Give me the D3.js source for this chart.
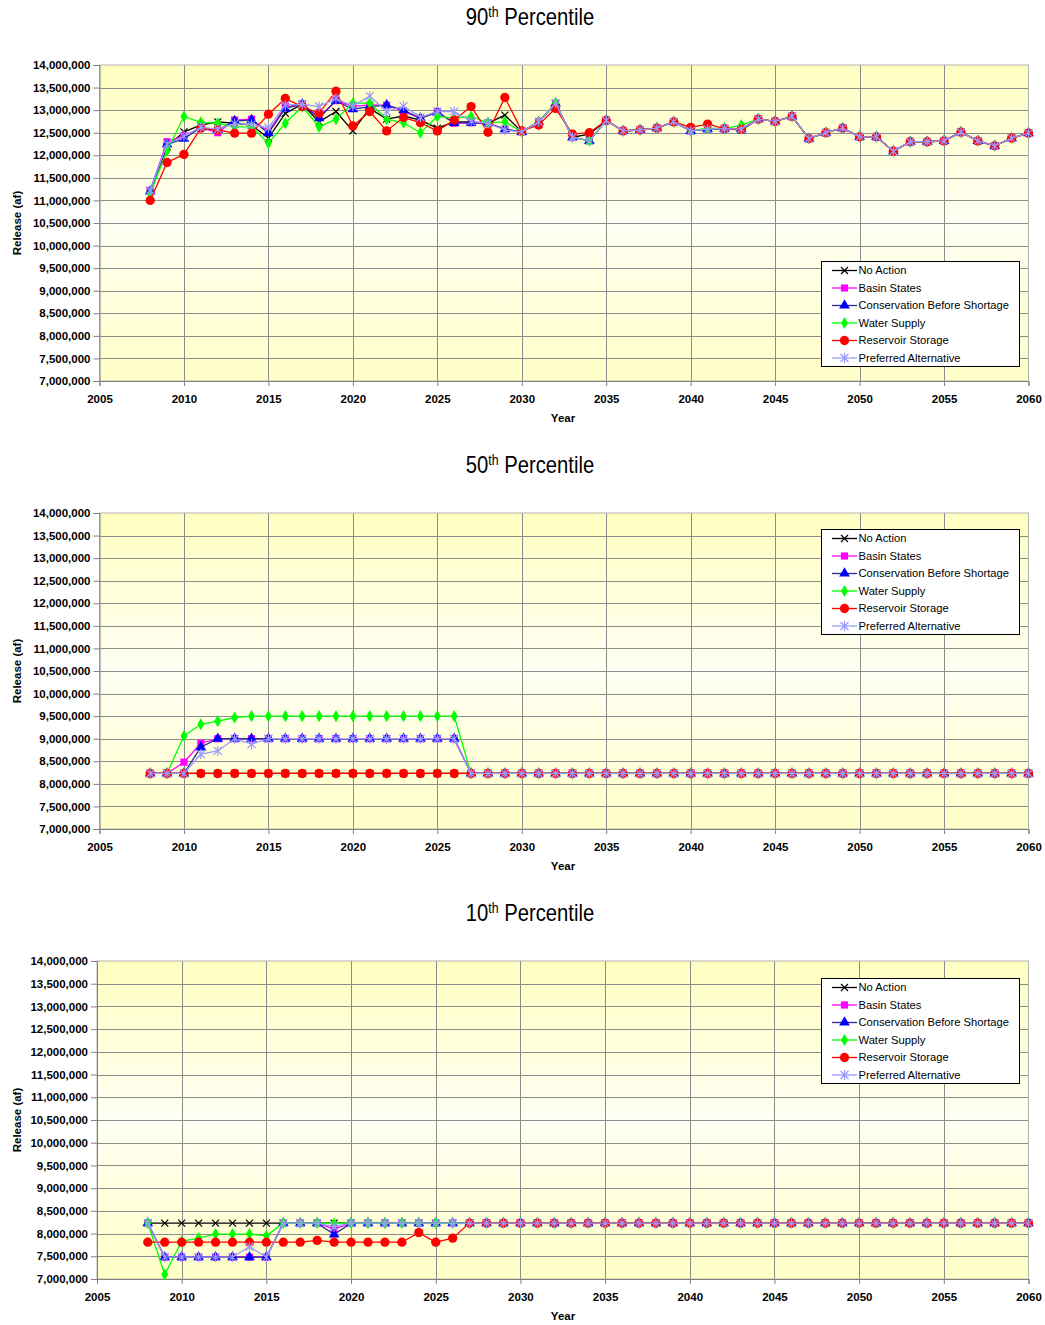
<!DOCTYPE html>
<html>
<head>
<meta charset="utf-8">
<script src="https://cdn.jsdelivr.net/npm/d3@7"></script>
<style>
  body { margin: 0; background: #fff; }
  svg text { font-family: "Liberation Sans", Arial, sans-serif; fill: #000; }
</style>
</head>
<body>
<svg id="chart" width="1045" height="1325"></svg>
<script>
// Annual release (million acre-feet), years 2008-2060
const years = [2008,2009,2010,2011,2012,2013,2014,2015,2016,2017,2018,2019,2020,2021,2022,2023,2024,2025,2026,2027,2028,2029,2030,2031,2032,2033,2034,2035,2036,2037,2038,2039,2040,2041,2042,2043,2044,2045,2046,2047,2048,2049,2050,2051,2052,2053,2054,2055,2056,2057,2058,2059,2060];

const seriesNames = ["No Action","Basin States","Conservation Before Shortage","Water Supply","Reservoir Storage","Preferred Alternative"];
const xTicks = [2005,2010,2015,2020,2025,2030,2035,2040,2045,2050,2055,2060];
const yTicks = [7,7.5,8,8.5,9,9.5,10,10.5,11,11.5,12,12.5,13,13.5,14];

// 90th percentile
const na90  = [11.20,12.19,12.52,12.67,12.74,12.71,12.67,12.38,12.93,13.13,12.74,12.97,12.54,13.04,12.80,12.87,12.78,12.60,12.74,12.74,12.71,12.89,12.52,12.74,13.15,12.40,12.47,12.77,12.54,12.56,12.60,12.74,12.54,12.58,12.59,12.56,12.80,12.75,12.86,12.37,12.50,12.60,12.41,12.41,12.09,12.30,12.30,12.32,12.51,12.32,12.21,12.38,12.49];
const bs90  = [11.22,12.30,12.43,12.61,12.50,12.78,12.80,12.52,13.08,13.13,12.85,13.21,13.09,13.11,13.11,12.97,12.82,12.97,12.71,12.72,12.71,12.58,12.52,12.74,13.15,12.40,12.32,12.77,12.54,12.56,12.60,12.74,12.54,12.58,12.59,12.58,12.80,12.75,12.86,12.37,12.50,12.60,12.41,12.41,12.09,12.30,12.30,12.32,12.51,12.32,12.21,12.38,12.49];
const cbs90 = [11.20,12.24,12.37,12.61,12.56,12.76,12.78,12.49,13.04,13.13,12.82,13.21,13.02,13.08,13.11,13.00,12.82,12.95,12.72,12.72,12.71,12.58,12.52,12.74,13.15,12.40,12.32,12.77,12.54,12.56,12.60,12.74,12.54,12.58,12.59,12.58,12.80,12.75,12.86,12.37,12.50,12.60,12.41,12.41,12.09,12.30,12.30,12.32,12.51,12.32,12.21,12.38,12.49];
const ws90  = [11.15,12.10,12.86,12.73,12.71,12.63,12.63,12.27,12.71,13.08,12.63,12.80,13.15,13.16,12.80,12.72,12.50,12.86,12.82,12.86,12.72,12.74,12.52,12.74,13.15,12.40,12.32,12.77,12.54,12.56,12.60,12.74,12.54,12.60,12.59,12.67,12.80,12.75,12.86,12.37,12.50,12.60,12.41,12.41,12.09,12.30,12.30,12.32,12.51,12.32,12.21,12.38,12.49];
const rs90  = [11.00,11.84,12.02,12.60,12.56,12.49,12.49,12.91,13.26,13.08,12.93,13.42,12.65,12.97,12.54,12.84,12.72,12.54,12.78,13.08,12.51,13.28,12.54,12.67,13.04,12.47,12.50,12.77,12.54,12.56,12.60,12.74,12.62,12.69,12.59,12.58,12.80,12.75,12.86,12.37,12.50,12.60,12.41,12.41,12.09,12.30,12.30,12.32,12.51,12.32,12.21,12.38,12.49];
const pa90  = [11.22,12.25,12.42,12.62,12.58,12.70,12.68,12.61,13.11,13.13,13.08,13.26,13.09,13.31,12.97,13.09,12.84,12.97,12.97,12.75,12.71,12.56,12.52,12.74,13.15,12.40,12.32,12.77,12.54,12.56,12.60,12.74,12.54,12.58,12.59,12.58,12.80,12.75,12.86,12.37,12.50,12.60,12.41,12.41,12.09,12.30,12.30,12.32,12.51,12.32,12.21,12.38,12.49];

// 50th percentile
const na50  = [8.23,8.23,8.23,8.23,8.23,8.23,8.23,8.23,8.23,8.23,8.23,8.23,8.23,8.23,8.23,8.23,8.23,8.23,8.23,8.23,8.23,8.23,8.23,8.23,8.23,8.23,8.23,8.23,8.23,8.23,8.23,8.23,8.23,8.23,8.23,8.23,8.23,8.23,8.23,8.23,8.23,8.23,8.23,8.23,8.23,8.23,8.23,8.23,8.23,8.23,8.23,8.23,8.23];
const bs50  = [8.23,8.23,8.48,8.90,9.00,9.00,9.00,9.00,9.00,9.00,9.00,9.00,9.00,9.00,9.00,9.00,9.00,9.00,9.00,8.23,8.23,8.23,8.23,8.23,8.23,8.23,8.23,8.23,8.23,8.23,8.23,8.23,8.23,8.23,8.23,8.23,8.23,8.23,8.23,8.23,8.23,8.23,8.23,8.23,8.23,8.23,8.23,8.23,8.23,8.23,8.23,8.23,8.23];
const cbs50 = [8.23,8.23,8.23,8.81,9.00,9.00,9.00,9.00,9.00,9.00,9.00,9.00,9.00,9.00,9.00,9.00,9.00,9.00,9.00,8.23,8.23,8.23,8.23,8.23,8.23,8.23,8.23,8.23,8.23,8.23,8.23,8.23,8.23,8.23,8.23,8.23,8.23,8.23,8.23,8.23,8.23,8.23,8.23,8.23,8.23,8.23,8.23,8.23,8.23,8.23,8.23,8.23,8.23];
const ws50  = [8.23,8.23,9.06,9.32,9.39,9.47,9.50,9.50,9.50,9.50,9.50,9.50,9.50,9.50,9.50,9.50,9.50,9.50,9.50,8.23,8.23,8.23,8.23,8.23,8.23,8.23,8.23,8.23,8.23,8.23,8.23,8.23,8.23,8.23,8.23,8.23,8.23,8.23,8.23,8.23,8.23,8.23,8.23,8.23,8.23,8.23,8.23,8.23,8.23,8.23,8.23,8.23,8.23];
const rs50  = [8.23,8.23,8.23,8.23,8.23,8.23,8.23,8.23,8.23,8.23,8.23,8.23,8.23,8.23,8.23,8.23,8.23,8.23,8.23,8.23,8.23,8.23,8.23,8.23,8.23,8.23,8.23,8.23,8.23,8.23,8.23,8.23,8.23,8.23,8.23,8.23,8.23,8.23,8.23,8.23,8.23,8.23,8.23,8.23,8.23,8.23,8.23,8.23,8.23,8.23,8.23,8.23,8.23];
const pa50  = [8.23,8.23,8.23,8.66,8.73,9.00,8.88,9.00,9.00,9.00,9.00,9.00,9.00,9.00,9.00,9.00,9.00,9.00,9.00,8.23,8.23,8.23,8.23,8.23,8.23,8.23,8.23,8.23,8.23,8.23,8.23,8.23,8.23,8.23,8.23,8.23,8.23,8.23,8.23,8.23,8.23,8.23,8.23,8.23,8.23,8.23,8.23,8.23,8.23,8.23,8.23,8.23,8.23];

// 10th percentile
const na10  = [8.23,8.23,8.23,8.23,8.23,8.23,8.23,8.23,8.23,8.23,8.23,8.23,8.23,8.23,8.23,8.23,8.23,8.23,8.23,8.23,8.23,8.23,8.23,8.23,8.23,8.23,8.23,8.23,8.23,8.23,8.23,8.23,8.23,8.23,8.23,8.23,8.23,8.23,8.23,8.23,8.23,8.23,8.23,8.23,8.23,8.23,8.23,8.23,8.23,8.23,8.23,8.23,8.23];
const bs10  = [8.23,7.48,7.48,7.48,7.48,7.48,7.48,7.48,8.23,8.23,8.23,8.10,8.23,8.23,8.23,8.23,8.23,8.23,8.23,8.23,8.23,8.23,8.23,8.23,8.23,8.23,8.23,8.23,8.23,8.23,8.23,8.23,8.23,8.23,8.23,8.23,8.23,8.23,8.23,8.23,8.23,8.23,8.23,8.23,8.23,8.23,8.23,8.23,8.23,8.23,8.23,8.23,8.23];
const cbs10 = [8.23,7.48,7.48,7.48,7.48,7.48,7.48,7.48,8.23,8.23,8.23,7.98,8.23,8.23,8.23,8.23,8.23,8.23,8.23,8.23,8.23,8.23,8.23,8.23,8.23,8.23,8.23,8.23,8.23,8.23,8.23,8.23,8.23,8.23,8.23,8.23,8.23,8.23,8.23,8.23,8.23,8.23,8.23,8.23,8.23,8.23,8.23,8.23,8.23,8.23,8.23,8.23,8.23];
const ws10  = [8.23,7.10,7.83,7.90,7.99,7.99,7.99,7.95,8.23,8.23,8.23,8.22,8.23,8.23,8.23,8.23,8.23,8.23,8.23,8.23,8.23,8.23,8.23,8.23,8.23,8.23,8.23,8.23,8.23,8.23,8.23,8.23,8.23,8.23,8.23,8.23,8.23,8.23,8.23,8.23,8.23,8.23,8.23,8.23,8.23,8.23,8.23,8.23,8.23,8.23,8.23,8.23,8.23];
const rs10  = [7.81,7.81,7.81,7.81,7.81,7.81,7.81,7.81,7.81,7.81,7.85,7.81,7.81,7.81,7.81,7.81,8.02,7.81,7.90,8.23,8.23,8.23,8.23,8.23,8.23,8.23,8.23,8.23,8.23,8.23,8.23,8.23,8.23,8.23,8.23,8.23,8.23,8.23,8.23,8.23,8.23,8.23,8.23,8.23,8.23,8.23,8.23,8.23,8.23,8.23,8.23,8.23,8.23];
const pa10  = [8.23,7.48,7.48,7.48,7.48,7.48,7.71,7.48,8.23,8.23,8.23,8.15,8.23,8.23,8.23,8.23,8.23,8.23,8.23,8.23,8.23,8.23,8.23,8.23,8.23,8.23,8.23,8.23,8.23,8.23,8.23,8.23,8.23,8.23,8.23,8.23,8.23,8.23,8.23,8.23,8.23,8.23,8.23,8.23,8.23,8.23,8.23,8.23,8.23,8.23,8.23,8.23,8.23];

// Series styling: line colour, marker kind, marker colour
const styles = [
  { line: "#000000", marker: "x",        color: "#000000" },
  { line: "#FF00FF", marker: "square",   color: "#FF00FF" },
  { line: "#2B2B9E", marker: "triangle", color: "#0000FF" },
  { line: "#00FF00", marker: "diamond",  color: "#00FF00" },
  { line: "#FF0000", marker: "circle",   color: "#FF0000" },
  { line: "#9999FF", marker: "star",     color: "#9999FF" }
];

const panels = [
  { ord: "90", data: [na90, bs90, cbs90, ws90, rs90, pa90],
    left: 99.5, right: 1028.5, top: 65, bottom: 381, titleY: 25, legendY: 261 },
  { ord: "50", data: [na50, bs50, cbs50, ws50, rs50, pa50],
    left: 99.5, right: 1028.5, top: 513, bottom: 829, titleY: 473, legendY: 529 },
  { ord: "10", data: [na10, bs10, cbs10, ws10, rs10, pa10],
    left: 97, right: 1028.5, top: 961, bottom: 1279, titleY: 921, legendY: 978 }
];

const svg = d3.select("#chart");
const defs = svg.append("defs");
const grad = defs.append("linearGradient").attr("id", "plotBg")
  .attr("x1", 0).attr("y1", 0).attr("x2", 0).attr("y2", 1);
grad.append("stop").attr("offset", "0%").attr("stop-color", "#FFFFC0");
grad.append("stop").attr("offset", "50%").attr("stop-color", "#FFFFF4");
grad.append("stop").attr("offset", "100%").attr("stop-color", "#FFFFC6");

const fmt = d3.format(",");

function drawMarker(g, kind, color, x, y) {
  if (kind === "x") {
    const s = 3.5;
    g.append("path").attr("d", `M${x-s},${y-s}L${x+s},${y+s}M${x-s},${y+s}L${x+s},${y-s}`)
      .attr("stroke", color).attr("stroke-width", 1.2).attr("fill", "none");
  } else if (kind === "star") {
    const s = 4;
    g.append("path").attr("d", `M${x-s},${y-s}L${x+s},${y+s}M${x-s},${y+s}L${x+s},${y-s}M${x},${y-s-1}L${x},${y+s+1}`)
      .attr("stroke", color).attr("stroke-width", 1.2).attr("fill", "none");
  } else {
    const sym = { square: d3.symbolSquare, triangle: d3.symbolTriangle, diamond: d3.symbolDiamond, circle: d3.symbolCircle }[kind];
    const size = { square: 52, triangle: 50, diamond: 42, circle: 68 }[kind];
    g.append("path").attr("d", d3.symbol().type(sym).size(size)())
      .attr("transform", `translate(${x},${y})`)
      .attr("fill", color).attr("stroke", "none");
  }
}

panels.forEach(p => {
  const x = d3.scaleLinear().domain([2005, 2060]).range([p.left, p.right]);
  const y = d3.scaleLinear().domain([7, 14]).range([p.bottom, p.top]);
  const g = svg.append("g");

  // Title with ordinal superscript, set in a condensed face
  const t = g.append("text")
    .attr("transform", `translate(530,${p.titleY}) scale(0.88,1)`)
    .attr("text-anchor", "middle")
    .style("font-size", "23px");
  t.append("tspan").text(p.ord);
  t.append("tspan").text("th").attr("dy", -8).style("font-size", "14px");
  t.append("tspan").text(" Percentile").attr("dy", 8);

  // Plot area
  g.append("rect").attr("x", p.left).attr("y", p.top)
    .attr("width", p.right - p.left).attr("height", p.bottom - p.top)
    .attr("fill", "url(#plotBg)");

  // Gridlines
  g.append("g").selectAll("line").data(yTicks.filter(v => v > 7 && v < 14)).join("line")
    .attr("x1", p.left).attr("x2", p.right)
    .attr("y1", d => Math.round(y(d)) + 0.5).attr("y2", d => Math.round(y(d)) + 0.5)
    .attr("stroke", "#8C8C8C").attr("stroke-width", 1);
  g.append("g").selectAll("line").data(xTicks.filter(v => v > 2005 && v < 2060)).join("line")
    .attr("y1", p.top).attr("y2", p.bottom)
    .attr("x1", d => Math.round(x(d)) + 0.5).attr("x2", d => Math.round(x(d)) + 0.5)
    .attr("stroke", "#8C8C8C").attr("stroke-width", 1);
  g.append("rect").attr("x", p.left).attr("y", p.top)
    .attr("width", p.right - p.left).attr("height", p.bottom - p.top)
    .attr("fill", "none").attr("stroke", "#B4B4B4").attr("stroke-width", 1);

  // Axes
  const yAxis = d3.axisLeft(y).tickValues(yTicks).tickSize(6).tickPadding(3)
    .tickFormat(d => fmt(Math.round(d * 1e6)));
  const ya = g.append("g").attr("transform", `translate(${p.left},0)`).call(yAxis);
  const xAxis = d3.axisBottom(x).tickValues(xTicks).tickSize(5).tickPadding(9)
    .tickFormat(d3.format("d"));
  const xa = g.append("g").attr("transform", `translate(0,${p.bottom})`).call(xAxis);
  [ya, xa].forEach(a => {
    a.select(".domain").attr("stroke", "#808080");
    a.selectAll(".tick line").attr("stroke", "#808080");
    a.selectAll(".tick text").style("font-size", "11.5px").style("font-weight", "bold")
      .style("font-family", "'Liberation Sans',Arial,sans-serif");
  });

  // Axis titles
  g.append("text").attr("x", 563).attr("y", p.bottom + 41).attr("text-anchor", "middle")
    .style("font-size", "11.5px").style("font-weight", "bold").text("Year");
  g.append("text")
    .attr("transform", `translate(21,${(p.top + p.bottom) / 2}) rotate(-90)`)
    .attr("text-anchor", "middle")
    .style("font-size", "11.5px").style("font-weight", "bold").text("Release (af)");

  // Series lines and markers
  const line = d3.line().x((d, i) => x(years[i])).y(d => y(d));
  p.data.forEach((vals, si) => {
    const st = styles[si];
    const sg = g.append("g");
    sg.append("path").datum(vals).attr("d", line)
      .attr("fill", "none").attr("stroke", st.line).attr("stroke-width", 1.3);
    vals.forEach((v, i) => drawMarker(sg, st.marker, st.color, x(years[i]), y(v)));
  });

  // Legend
  const lg = g.append("g").attr("transform", `translate(821,${p.legendY})`);
  lg.append("rect").attr("x", 0.5).attr("y", 0.5).attr("width", 198).attr("height", 105)
    .attr("fill", "#FFFFFF").attr("stroke", "#000000").attr("stroke-width", 1);
  seriesNames.forEach((name, i) => {
    const st = styles[i];
    const ry = 9.5 + i * 17.5;
    lg.append("line").attr("x1", 11).attr("x2", 36).attr("y1", ry).attr("y2", ry)
      .attr("stroke", st.line).attr("stroke-width", 1.3);
    drawMarker(lg, st.marker, st.color, 23.5, ry);
    lg.append("text").attr("x", 37.5).attr("y", ry).attr("dy", "0.35em")
      .style("font-size", "11.2px").text(name);
  });
});
</script>
</body>
</html>
